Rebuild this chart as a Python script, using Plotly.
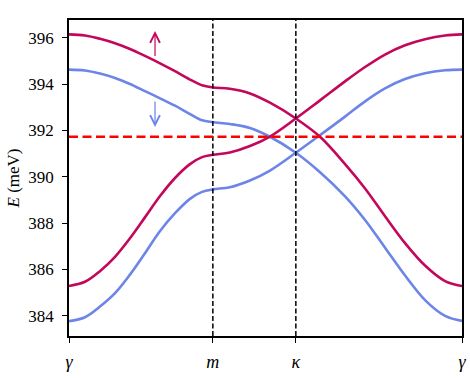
import plotly.graph_objects as go

# k-path coordinates (gamma -> m -> kappa -> gamma)
k_ticks = [0.0, 1.0, 1.577, 2.732]
k_labels = ["<i>γ</i>", "<i>m</i>", "<i>κ</i>", "<i>γ</i>"]

k = [0.0, 0.111, 0.215, 0.320, 0.424, 0.528, 0.633, 0.737, 0.841, 0.925, 1.0,
     1.118, 1.258, 1.397, 1.577, 1.745, 1.919, 2.058, 2.197, 2.336, 2.475, 2.614, 2.732]

up_a = [396.15, 396.10, 395.96, 395.77, 395.52, 395.22, 394.90, 394.56, 394.20, 393.95, 393.86,
        393.80, 393.60, 393.20, 392.52, 391.73, 390.55, 389.50, 388.30, 387.14, 386.17, 385.50, 385.29]
up_b = [385.29, 385.47, 385.93, 386.55, 387.35, 388.25, 389.17, 389.95, 390.55, 390.85, 390.95,
        391.05, 391.33, 391.74, 392.52, 393.30, 394.12, 394.74, 395.28, 395.68, 395.94, 396.10, 396.15]
dn_a = [394.63, 394.59, 394.46, 394.27, 394.01, 393.70, 393.39, 393.07, 392.71, 392.44, 392.36,
        392.28, 392.11, 391.73, 391.04, 390.20, 389.16, 388.14, 386.94, 385.74, 384.68, 384.00, 383.78]
dn_b = [383.77, 383.94, 384.40, 384.98, 385.78, 386.70, 387.66, 388.43, 389.05, 389.35, 389.46,
        389.55, 389.84, 390.27, 391.04, 391.80, 392.60, 393.26, 393.82, 394.22, 394.47, 394.60, 394.63]

e_fermi = 391.73

c_up = "#c3085c"
c_dn = "#6d84e8"
font = "Liberation Serif, DejaVu Serif, serif"

fig = go.Figure()
for band, col in [(dn_a, c_dn), (dn_b, c_dn), (up_a, c_up), (up_b, c_up)]:
    fig.add_trace(go.Scatter(x=k, y=band, mode="lines",
                             line=dict(color=col, width=2.6, shape="spline", smoothing=1),
                             showlegend=False))

for kv in k_ticks[1:3]:
    fig.add_shape(type="line", x0=kv, x1=kv, y0=0, y1=1, yref="paper",
                  line=dict(color="black", width=1.5, dash="5px,2.5px"))
fig.add_shape(type="line", x0=0, x1=1, xref="paper", y0=e_fermi, y1=e_fermi,
              line=dict(color="#ff0000", width=2.6, dash="9px,4.5px"))

# spin arrows
fig.add_annotation(x=0.598, y=396.3, ax=0.598, ay=395.15, xref="x", yref="y",
                   axref="x", ayref="y", text="", showarrow=True,
                   arrowhead=5, arrowsize=1.6, arrowwidth=1.2, arrowcolor=c_up)
fig.add_annotation(x=0.598, y=392.15, ax=0.598, ay=393.32, xref="x", yref="y",
                   axref="x", ayref="y", text="", showarrow=True,
                   arrowhead=5, arrowsize=1.6, arrowwidth=1.2, arrowcolor=c_dn)

fig.update_layout(
    width=470, height=378,
    margin=dict(l=69, r=8, t=20, b=42),
    plot_bgcolor="white", paper_bgcolor="white",
    font=dict(family=font, size=17, color="black"),
)
fig.update_xaxes(range=[0, 2.732], tickvals=k_ticks, ticktext=k_labels,
                 showgrid=False, zeroline=False, showline=True, mirror=True,
                 linecolor="black", linewidth=1.5, ticks="outside", ticklen=5,
                 tickwidth=1.2, tickcolor="black", tickfont=dict(size=18),
                 ticklabelstandoff=4, automargin=False)
fig.update_yaxes(range=[383.13, 396.77], tickvals=[384, 386, 388, 390, 392, 394, 396],
                 showgrid=False, zeroline=False, showline=True, mirror=True,
                 linecolor="black", linewidth=1.5, ticks="outside", ticklen=5,
                 tickwidth=1.2, tickcolor="black", automargin=False,
                 ticklabelstandoff=5,
                 title=dict(text="<i>E</i> (meV)", font=dict(size=17), standoff=4))

# the page body has a default 8px margin; drop it so the figure sits at 0,0
fig.write_html("out.html", config={"displayModeBar": False},
               post_script="document.body.style.margin='0';")
